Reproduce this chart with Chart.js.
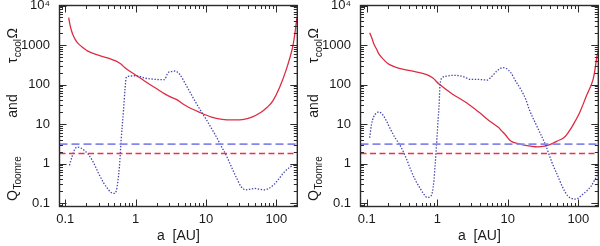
<!DOCTYPE html>
<html><head><meta charset="utf-8">
<script src="https://cdn.jsdelivr.net/npm/chart.js@4.4.1/dist/chart.umd.min.js"></script>
<style>
html,body{margin:0;padding:0;background:#fff;width:600px;height:246px;overflow:hidden;}
.panel{position:absolute;top:0;width:300px;height:246px;}
</style></head><body>
<div class="panel" style="left:0"><canvas id="left" width="300" height="246"></canvas></div>
<div class="panel" style="left:301px"><canvas id="right" width="300" height="246"></canvas></div>
<script>
// ---- data ----
const leftCoolA   = [0.112,0.116,0.122,0.13,0.14,0.152,0.18,0.21,0.26,0.325,0.42,0.53,0.62,0.70,0.85,1.0,1.34,2.0,2.6,3.2,3.8,5.2,8.0,12,17,24,33,45,60,75,89,111,139,172,197];
const leftCoolVal = [4900,3500,2400,1750,1350,1100,850,700,600,525,460,390,330,270,210,175,123,78,58,48,42,29,20,15,13.2,12.7,13,15,19.6,27,38,83,242,940,5000];
const leftQA   = [0.115,0.125,0.135,0.147,0.165,0.19,0.214,0.25,0.296,0.35,0.41,0.45,0.49,0.53,0.56,0.59,0.625,0.676,0.71,0.736,0.8,0.97,1.15,1.34,1.7,2.06,2.58,2.87,3.2,3.6,4.2,5.3,6.5,8.2,10.4,12.6,14.5,16.4,19.5,22.7,27,31.5,37,43,48.8,57,67.6,80,93.6,110,129,155,190];
const leftQVal = [0.9,1.5,2.2,2.6,2.5,2.1,1.7,1.1,0.58,0.33,0.22,0.185,0.176,0.2,0.35,0.85,4.1,23.6,80,149,162,167,160,146,138,134,133,195,212,220,185,92,48,23.6,12,6.7,4.3,2.8,1.6,0.875,0.45,0.264,0.217,0.225,0.235,0.225,0.217,0.24,0.3,0.42,0.6,0.8,0.97];
const rightCoolA   = [0.110,0.118,0.127,0.138,0.15,0.175,0.207,0.288,0.446,0.69,0.857,1.07,1.65,2.56,3.96,5.5,7.4,8.0,9.3,11,14,17.1,21,26.4,33,40.9,50,63,75,88,105,130,162,184,192];
const rightCoolVal = [2040,1500,1035,780,580,420,324,257,219,181,149,101,57,35,19.5,12,8.2,7.0,5.3,3.74,3.2,2.92,2.75,2.64,2.75,3.09,3.7,4.57,6.8,10.9,20,51,135,525,700];
const rightQA   = [0.110,0.117,0.125,0.135,0.148,0.165,0.19,0.217,0.25,0.30,0.36,0.417,0.49,0.58,0.65,0.72,0.79,0.85,0.90,0.93,0.965,1.0,1.03,1.06,1.09,1.18,1.35,1.73,2.3,2.98,3.7,4.5,5.1,5.7,7.0,8.4,9.5,11,13,15.3,18,20.1,25,34.7,42,51,60,70.7,80,88,97,109,130,152,175,192];
const rightQVal = [4.5,10,15,18.5,20.2,18,12,7.4,4.6,2.8,1.4,0.72,0.38,0.226,0.165,0.139,0.145,0.186,0.4,0.875,2.3,6.1,14,28.6,92,149,163,171,160,135,135,132,130,149,220,267,255,200,120,75,42,23.6,10,2.8,1.1,0.49,0.25,0.153,0.132,0.126,0.13,0.153,0.2,0.27,0.42,0.6];
const qCritBlue = 3.1;   // dashed blue level
const qCritRed  = 1.8;   // dashed red level
const leftXRange  = [0.083, 199];
const rightXRange = [0.0815, 192];
const yRange      = [0.082, 10000];
const xTickValues = [0.1, 1, 10, 100];
const xTickLabels = ['0.1', '1', '10', '100'];
const yTickValues = [0.1, 1, 10, 100, 1000, 10000];
const yTickLabels = ['0.1', '1', '10', '100', '1000', '10\u2074'];

const FONT = '"Liberation Sans", Arial, sans-serif';
const TXT = '#1a1a1a';

function pts(a, v){ return a.map((x,i)=>({x:x, y:v[i]})); }

const framePlugin = {
  id: 'frame',
  afterDraw(chart){
    const {ctx, chartArea:a, scales} = chart;
    const xs = scales.x, ys = scales.y;
    ctx.save();
    ctx.strokeStyle = '#2b2b2b';
    ctx.lineWidth = 1;
    ctx.beginPath();
    const each = (lo, hi, cb) => {
      for (let d = Math.floor(Math.log10(lo)); d <= Math.ceil(Math.log10(hi)); d++) {
        for (let m = 1; m <= 9; m++) {
          const v = m * Math.pow(10, d);
          if (v < lo*0.9999 || v > hi*1.0001) continue;
          cb(v, m === 1);
        }
      }
    };
    each(xs.min, xs.max, (v, major) => {
      const L = major ? 7 : 3.5;
      const p = Math.round(xs.getPixelForValue(v)) + 0.5;
      ctx.moveTo(p, a.bottom); ctx.lineTo(p, a.bottom - L);
      ctx.moveTo(p, a.top); ctx.lineTo(p, a.top + L);
    });
    each(ys.min, ys.max, (v, major) => {
      const L = major ? 7 : 3.5;
      const p = Math.round(ys.getPixelForValue(v)) + 0.5;
      ctx.moveTo(a.left, p); ctx.lineTo(a.left + L, p);
      ctx.moveTo(a.right, p); ctx.lineTo(a.right - L, p);
    });
    ctx.stroke();
    ctx.lineWidth = 1.4;
    ctx.strokeRect(a.left, a.top, a.right - a.left, a.bottom - a.top);

    // x title
    ctx.fillStyle = TXT;
    ctx.font = '14px ' + FONT;
    ctx.textAlign = 'center';
    ctx.textBaseline = 'alphabetic';
    ctx.fillText('a  [AU]', (a.left + a.right) / 2, 240);

    // y title (rotated, with subscripts)
    ctx.save();
    ctx.translate(17, 0);
    ctx.rotate(-Math.PI / 2);
    ctx.textAlign = 'left';
    let t = -201;
    ctx.font = '14px ' + FONT;
    ctx.fillText('Q', t, 0); t += ctx.measureText('Q').width + 0.5;
    ctx.font = '10px ' + FONT;
    ctx.fillText('Toomre', t, 3.5);
    ctx.font = '14px ' + FONT;
    const wAnd = ctx.measureText('and').width;
    ctx.fillText('and', -106 - wAnd / 2, 0);
    ctx.font = '14px ' + FONT; const wTau = ctx.measureText('\u03C4').width;
    ctx.font = '10px ' + FONT; const wCool = ctx.measureText('cool').width;
    ctx.font = '14px ' + FONT; const wOm = ctx.measureText('\u03A9').width;
    let s = -28 - (wTau + wCool + wOm + 1);
    ctx.font = '14px ' + FONT; ctx.fillText('\u03C4', s, 0); s += wTau + 0.5;
    ctx.font = '10px ' + FONT; ctx.fillText('cool', s, 3.5); s += wCool + 0.5;
    ctx.font = '14px ' + FONT; ctx.fillText('\u03A9', s, 0);
    ctx.restore();
    ctx.restore();
  }
};

function makePanel(id, xRange, coolA, coolVal, qA, qVal){
  const datasets = [
    { data: pts(xRange, [qCritBlue, qCritBlue]), borderColor: '#8585ee', borderWidth: 1.6, borderDash: [8, 4], tension: 0 },
    { data: pts(xRange, [qCritRed, qCritRed]), borderColor: '#ec3050', borderWidth: 1.3, borderDash: [6, 3.5], tension: 0 },
    { data: pts(qA, qVal), borderColor: '#4444b2', borderWidth: 1.3, borderDash: [1.4, 1.6], cubicInterpolationMode: 'monotone' },
    { data: pts(coolA, coolVal), borderColor: '#dc2c42', borderWidth: 1.3, tension: 0.35 }
  ];
  return new Chart(document.getElementById(id), {
    type: 'line',
    data: { datasets: datasets.map(d => Object.assign({ pointRadius: 0, fill: false }, d)) },
    options: {
      responsive: false, animation: false, devicePixelRatio: 1, events: [],
      layout: { padding: { top: 5.5, right: 2.7, left: 0, bottom: 0 } },
      plugins: { legend: { display: false }, tooltip: { enabled: false } },
      scales: {
        x: {
          type: 'logarithmic', min: xRange[0], max: xRange[1],
          grid: { display: false, drawTicks: false }, border: { display: false },
          afterBuildTicks: s => { s.ticks = xTickValues.map(v => ({ value: v })); },
          afterFit: s => { s.height = 39.5; s.paddingLeft = 0; s.paddingRight = 0; },
          ticks: { autoSkip: false, maxRotation: 0, padding: 5, color: TXT,
                   font: { family: FONT, size: 13 }, callback: (v, i) => xTickLabels[i] }
        },
        y: {
          type: 'logarithmic', min: yRange[0], max: yRange[1],
          grid: { display: false, drawTicks: false }, border: { display: false },
          afterBuildTicks: s => { s.ticks = yTickValues.map(v => ({ value: v })); },
          afterFit: s => { s.width = 59.5; s.paddingTop = 0; s.paddingBottom = 0; },
          ticks: { autoSkip: false, padding: 9.5, color: TXT,
                   font: { family: FONT, size: 13 }, callback: (v, i) => yTickLabels[i] }
        }
      }
    },
    plugins: [framePlugin]
  });
}

makePanel('left',  leftXRange,  leftCoolA,  leftCoolVal,  leftQA,  leftQVal);
makePanel('right', rightXRange, rightCoolA, rightCoolVal, rightQA, rightQVal);
</script>
</body></html>
